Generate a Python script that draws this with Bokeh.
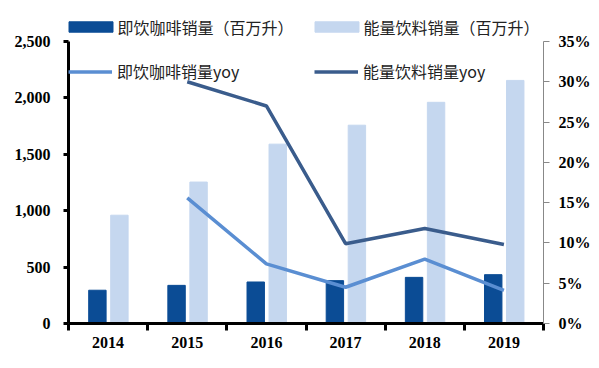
from bokeh.plotting import figure
from bokeh.models import (ColumnDataSource, Range1d, LinearAxis, FixedTicker,
                          NumeralTickFormatter, Legend, LegendItem)
from bokeh.transform import dodge
from bokeh.embed import file_html
from bokeh.resources import INLINE

years = ["2014", "2015", "2016", "2017", "2018", "2019"]
coffee_vol = [295, 338, 368, 380, 409, 433]
energy_vol = [960, 1254, 1590, 1758, 1961, 2155]
coffee_yoy = [None, 15.6, 7.4, 4.5, 8.0, 4.1]
energy_yoy = [None, 30.0, 27.0, 9.9, 11.8, 9.8]
left_ticks = [0, 500, 1000, 1500, 2000, 2500]
right_ticks = [0, 0.05, 0.10, 0.15, 0.20, 0.25, 0.30, 0.35]

C_DARK = "#0B4C95"
C_LIGHT = "#C5D7EF"
C_COFFEE_LINE = "#5A8ED2"
C_ENERGY_LINE = "#3A5C8C"

# frame extends above the axes' top value to leave room for the legend rows
FRAME_H = 318
AXIS_H = 282
ymax_left = left_ticks[-1] * FRAME_H / AXIS_H
ymax_right = right_ticks[-1] * FRAME_H / AXIS_H

xc = [i + 0.5 for i in range(len(years))]
src = ColumnDataSource(dict(
    x=xc, coffee=coffee_vol, energy=energy_vol,
    cy=[v / 100 if v is not None else float("nan") for v in coffee_yoy],
    ey=[v / 100 if v is not None else float("nan") for v in energy_yoy],
))

p = figure(width=596, height=364, output_backend="svg", toolbar_location=None,
           x_range=Range1d(0, 6), y_range=Range1d(0, ymax_left),
           frame_width=475, frame_height=FRAME_H,
           min_border_left=68, min_border_right=53, min_border_top=5, min_border_bottom=41)
p.background_fill_color = "white"
p.border_fill_color = "white"
p.outline_line_color = None
p.xgrid.visible = False
p.ygrid.visible = False
p.extra_y_ranges = {"pct": Range1d(0, ymax_right)}

serif = "Liberation Serif"
cjk = "Noto Sans CJK SC"

# x axis: labels at category centres, tick marks at category boundaries
p.xaxis.ticker = FixedTicker(ticks=xc, minor_ticks=list(range(len(years) + 1)))
p.xaxis.major_label_overrides = {x: y for x, y in zip(xc, years)}
p.xaxis.major_tick_line_alpha = 0
p.xaxis.major_tick_in = 0
p.xaxis.major_tick_out = 7
p.xaxis.minor_tick_in = 0
p.xaxis.minor_tick_out = 7
p.xaxis.minor_tick_line_width = 3
p.xaxis.minor_tick_line_color = "black"
p.xaxis.axis_line_width = 3
p.xaxis.axis_line_color = "black"
p.xaxis.major_label_text_font = serif
p.xaxis.major_label_text_font_style = "bold"
p.xaxis.major_label_text_font_size = "16px"
p.xaxis.major_label_text_color = "black"
p.xaxis.major_label_standoff = 6

p.yaxis.ticker = FixedTicker(ticks=left_ticks)
p.yaxis.bounds = (left_ticks[0], left_ticks[-1])
p.yaxis.formatter = NumeralTickFormatter(format="0,0")
p.yaxis.axis_line_width = 3
p.yaxis.axis_line_color = "black"
p.yaxis.major_tick_in = 0
p.yaxis.major_tick_out = 5
p.yaxis.major_tick_line_width = 3
p.yaxis.minor_tick_line_alpha = 0
p.yaxis.major_label_text_font = serif
p.yaxis.major_label_text_font_style = "bold"
p.yaxis.major_label_text_font_size = "16px"
p.yaxis.major_label_text_color = "black"
p.yaxis.major_label_standoff = 13

ra = LinearAxis(y_range_name="pct", ticker=FixedTicker(ticks=right_ticks),
                formatter=NumeralTickFormatter(format="0%"),
                bounds=(right_ticks[0], right_ticks[-1]))
ra.axis_line_color = "#888888"
ra.axis_line_width = 1
ra.major_tick_in = 0
ra.major_tick_out = 6
ra.major_tick_line_color = "#888888"
ra.minor_tick_line_alpha = 0
ra.major_label_text_font = serif
ra.major_label_text_font_style = "bold"
ra.major_label_text_font_size = "16px"
ra.major_label_text_color = "black"
ra.major_label_standoff = 9
p.add_layout(ra, "right")

bw = 0.22
r1 = p.vbar(x=dodge("x", -0.135), top="coffee", width=bw, source=src, color=C_DARK)
r2 = p.vbar(x=dodge("x", 0.143), top="energy", width=bw, source=src, color=C_LIGHT)
r3 = p.line(x="x", y="cy", source=src, y_range_name="pct", line_color=C_COFFEE_LINE, line_width=3.5)
r4 = p.line(x="x", y="ey", source=src, y_range_name="pct", line_color=C_ENERGY_LINE, line_width=3.5)


def mk_legend(label, renderer, x, y, gw, standoff):
    lg = Legend(items=[LegendItem(label=label, renderers=[renderer])],
                location=(x, y), glyph_width=gw, glyph_height=13,
                label_standoff=standoff, padding=0, margin=0, spacing=0,
                border_line_alpha=0, background_fill_alpha=0,
                label_text_font=cjk, label_text_font_size="16px",
                label_text_color="#222222")
    p.add_layout(lg, "center")


mk_legend("即饮咖啡销量（百万升）", r1, -5.5, 284.5, 55, 0)
mk_legend("能量饮料销量（百万升）", r2, 240.5, 284.5, 55, 0)
mk_legend("即饮咖啡销量yoy", r3, 0, 240, 44, 5)
mk_legend("能量饮料销量yoy", r4, 246, 240, 44, 5)

open("out.html", "w").write(file_html(p, INLINE))
